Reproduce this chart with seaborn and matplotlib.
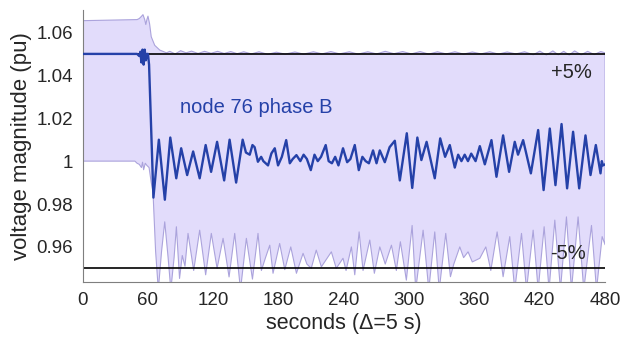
import numpy as np
import pandas as pd
import matplotlib
matplotlib.use("Agg")
import matplotlib.pyplot as plt
import seaborn as sns

# node 76 phase B voltage (pu), sample times in s
t_node = [0, 50, 52, 53, 54, 55, 56, 57, 58, 59, 60, 61, 65, 70, 75.5, 80.5, 86, 90.5, 96,
          101.5, 107.5, 113, 118, 123.5, 130, 135, 141, 147, 150, 153.5, 156, 158, 161, 164,
          166, 170.3, 173.4, 176.5, 179.5, 183, 187, 190.3, 193, 196.4, 200, 203, 206, 209.6,
          213, 216, 219, 223.3, 226, 229, 232, 235, 239.2, 243, 246, 250, 253.7, 257, 260,
          263, 266.8, 270, 273, 277.6, 282, 286.8, 291.4, 297.8, 302.8, 307.5, 311.2, 316,
          323.5, 328.5, 333, 337.3, 341.9, 345, 348, 351, 354, 357, 361, 364.9, 369.5, 375.6,
          380.2, 386.3, 391.8, 397, 400, 404.7, 411.8, 418.5, 423.5, 429.2, 434.4, 440, 445.1,
          450.6, 456.2, 462, 466.6, 471.5, 475.8, 477, 478, 480]
v_node = [1.05, 1.05, 1.049, 1.051, 1.046, 1.052, 1.045, 1.052, 1.047, 1.05, 1.05, 1.045,
          0.983, 1.010, 0.982, 1.011, 0.992, 1.006, 0.9935, 1.0045, 0.992, 1.0075, 0.995,
          1.009, 0.991, 1.010, 0.990, 1.010, 1.004, 1.003, 1.0075, 1.0065, 0.9997, 1.002,
          1.000, 0.998, 1.0036, 1.006, 0.998, 1.002, 1.0098, 0.999, 1.001, 1.0028, 1.000,
          1.003, 1.001, 0.9958, 1.003, 1.000, 1.002, 1.0075, 1.000, 0.999, 1.002, 0.998,
          1.006, 0.9995, 1.001, 1.0075, 0.9958, 1.002, 1.000, 0.999, 1.005, 0.999, 1.005,
          0.9995, 1.0065, 1.0095, 0.991, 1.013, 0.9875, 1.011, 1.0005, 1.009, 0.992, 1.0106,
          1.002, 1.0075, 0.997, 1.003, 1.000, 1.003, 1.000, 1.0035, 1.000, 1.007, 0.9985,
          1.0098, 0.9927, 1.012, 0.995, 1.009, 1.003, 1.0098, 0.9943, 1.0145, 0.9865, 1.0152,
          0.9888, 1.0173, 0.9873, 1.0137, 0.9873, 1.012, 0.9935, 1.0075, 0.9943, 1.000,
          0.998, 0.9985]

# upper envelope over all nodes
t_upper = [0, 50, 52, 54, 55.4, 57, 58, 59, 60, 61.5, 63, 66.2, 70.8, 77, 80, 85, 90, 95,
           100, 106, 112, 118, 124, 130, 136, 142, 148, 155, 162, 170, 178, 186, 195, 203,
           212, 220, 228, 236, 245, 253, 262, 270, 278, 286, 294, 302, 310, 318, 326, 334,
           342, 350, 358, 366, 374, 382, 390, 398, 406, 414, 420, 426, 432, 437, 442, 447,
           452, 458, 464, 470, 476, 480]
v_upper = [1.0655, 1.066, 1.0665, 1.0675, 1.0683, 1.066, 1.0637, 1.066, 1.0676, 1.064,
           1.058, 1.054, 1.0518, 1.0505, 1.0512, 1.0500, 1.0515, 1.0505, 1.0513, 1.0502,
           1.0512, 1.0503, 1.0512, 1.0502, 1.0511, 1.0501, 1.0510, 1.0500, 1.0510, 1.0498,
           1.0508, 1.0499, 1.0509, 1.0499, 1.0510, 1.0500, 1.0511, 1.0500, 1.0510, 1.0499,
           1.0510, 1.0500, 1.0512, 1.0501, 1.0511, 1.0500, 1.0511, 1.0499, 1.0510, 1.0500,
           1.0510, 1.0499, 1.0509, 1.0500, 1.0510, 1.0499, 1.0509, 1.0500, 1.0510, 1.0496,
           1.0513, 1.0495, 1.0514, 1.0496, 1.0512, 1.0495, 1.0514, 1.0496, 1.0512, 1.0497,
           1.0511, 1.0505]

# lower envelope over all nodes
t_lower = [0, 48, 50, 52, 54, 55, 56, 57.5, 59, 61, 63, 64.6, 67, 69.5, 72.5, 75.4, 78.5,
           81, 84, 86.1, 89, 91.5, 94, 96.8, 102, 107.5, 113, 118.2, 123.5, 129, 134.5,
           139.7, 145, 150.4, 156, 161.1, 164.2, 168, 171.9, 174.9, 181, 185.7, 191.2,
           196.4, 202.5, 206, 210, 214.6, 219.3, 228.5, 233, 239.2, 242, 246.9, 250, 254,
           257.6, 263.8, 268, 273, 278, 283.7, 288.2, 291.9, 297.4, 302.7, 306, 312.8, 318,
           323.5, 327.6, 333.6, 337.9, 341, 346.5, 350, 354.1, 358, 364.9, 370.4, 375, 380.8,
           386.3, 392.4, 397, 403.2, 407.8, 413.9, 418.5, 424, 428.5, 433.8, 439, 444.5,
           449.1, 455.2, 460.4, 467.5, 472.1, 477.3, 480]
v_lower = [1.000, 1.000, 0.999, 0.9985, 0.997, 0.9995, 0.996, 0.999, 0.998, 0.997, 0.990,
           0.9857, 0.958, 0.940, 0.958, 0.9717, 0.955, 0.940, 0.955, 0.9694, 0.9453, 0.956,
           0.951, 0.9663, 0.949, 0.9678, 0.947, 0.9663, 0.950, 0.964, 0.946, 0.9663, 0.940,
           0.964, 0.945, 0.9663, 0.949, 0.955, 0.9608, 0.9477, 0.9616, 0.9494, 0.960,
           0.9477, 0.957, 0.952, 0.950, 0.9585, 0.9507, 0.9577, 0.950, 0.9547, 0.949, 0.960,
           0.947, 0.967, 0.949, 0.9632, 0.9477, 0.960, 0.952, 0.9608, 0.949, 0.9624, 0.9445,
           0.970, 0.940, 0.9678, 0.940, 0.967, 0.940, 0.9663, 0.9461, 0.952, 0.960, 0.955,
           0.9577, 0.953, 0.9547, 0.960, 0.949, 0.967, 0.9461, 0.9648, 0.940, 0.9663, 0.940,
           0.9678, 0.940, 0.9694, 0.940, 0.9725, 0.940, 0.974, 0.940, 0.974, 0.940, 0.970,
           0.940, 0.9648, 0.961]

limits = [1.05, 0.95]
limit_labels = ["+5%", "-5%"]
x_ticks = [0, 60, 120, 180, 240, 300, 360, 420, 480]
y_ticks = [0.96, 0.98, 1.00, 1.02, 1.04, 1.06]

sns.set_style("white")
plt.rcParams["font.family"] = ["Liberation Sans", "DejaVu Sans"]

band_fill = "#e2dcfb"
band_edge = "#aba3dc"
node_color = "#2541a8"

fig = plt.figure(figsize=(6.34, 3.43), dpi=100)
ax = fig.add_axes([0.1304, 0.177, 0.824, 0.794])

# envelope band: upper edge then lower edge backwards
poly_x = np.r_[t_upper, t_lower[::-1]]
poly_y = np.r_[v_upper, v_lower[::-1]]
ax.fill(poly_x, poly_y, facecolor=band_fill, edgecolor=band_edge, linewidth=0.8,
        joinstyle="round", zorder=1)

for lim in limits:
    ax.axhline(lim, color="black", linewidth=1.2, zorder=2)

node = pd.DataFrame({"t": t_node, "v": v_node})
sns.lineplot(data=node, x="t", y="v", ax=ax, color=node_color, linewidth=1.7,
             sort=False, solid_joinstyle="round", zorder=3)

ax.text(89, 1.0252, "node 76 phase B", color=node_color, fontsize=14.5, va="center", ha="left")
ax.text(468, 1.0413, limit_labels[0], fontsize=14.5, va="center", ha="right")
ax.text(462, 0.9568, limit_labels[1], fontsize=14.5, va="center", ha="right")

ax.set_xlim(0, 480)
ax.set_ylim(0.9435, 1.0705)
ax.set_xticks(x_ticks)
ax.set_yticks(y_ticks)
ax.set_yticklabels([f"{v:g}" for v in y_ticks])
ax.set_xlabel("seconds (\u0394=5 s)", fontsize=15.5, labelpad=3)
ax.set_ylabel("voltage magnitude (pu)", fontsize=16, labelpad=3)

for side in ["top", "right"]:
    ax.spines[side].set_visible(False)
for side in ["left", "bottom"]:
    ax.spines[side].set_color("#7f7f7f")
    ax.spines[side].set_linewidth(0.8)
ax.tick_params(direction="in", length=4, width=0.6, color="#7f7f7f", labelsize=13.5,
               labelcolor="#262626", pad=7)

fig.savefig("out.png", dpi=100)
